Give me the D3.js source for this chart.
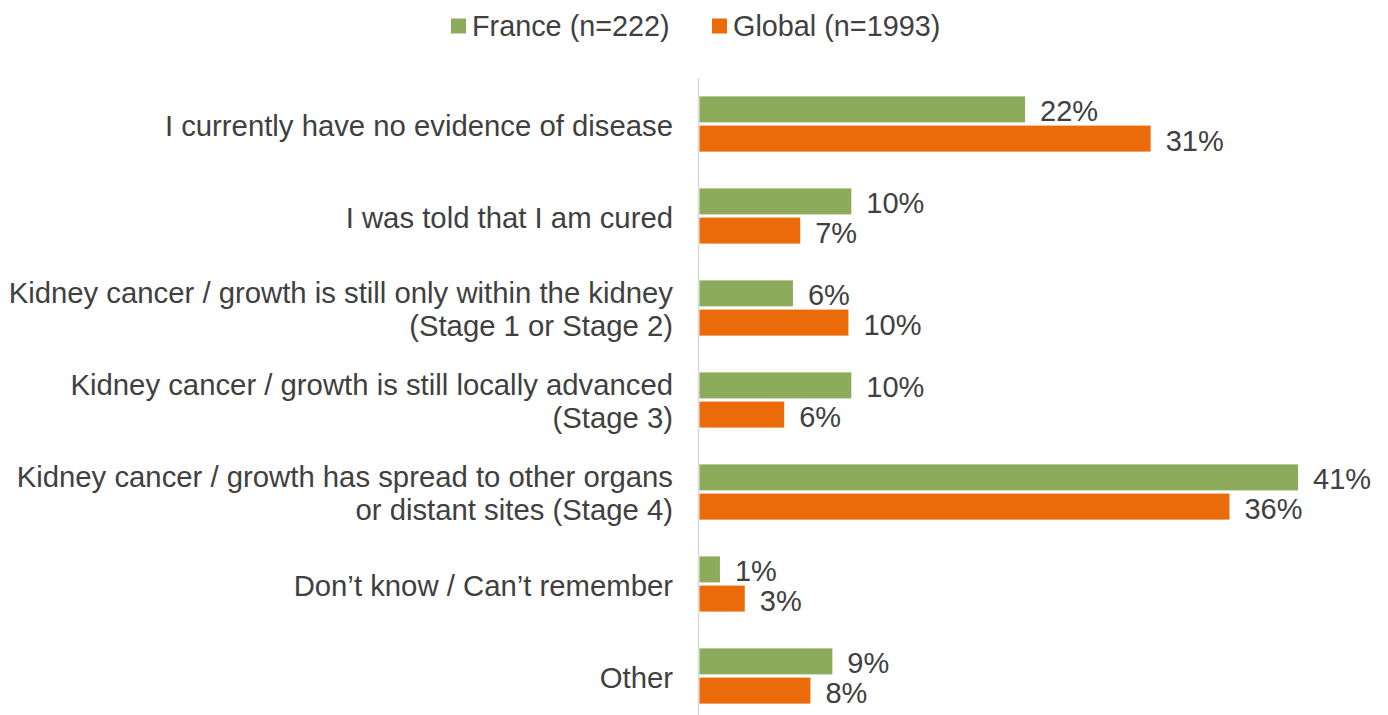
<!DOCTYPE html>
<html>
<head>
<meta charset="utf-8">
<script src="https://cdn.jsdelivr.net/npm/d3@7"></script>
<style>
  html, body { margin: 0; padding: 0; background: #ffffff; }
  svg { display: block; }
  svg text { font-family: Arial, "Liberation Sans", Helvetica, sans-serif; }
</style>
</head>
<body>
<svg id="chart" width="1388" height="715"></svg>
<script>
// ---- data ----
const categories = [
  ["I currently have no evidence of disease"],
  ["I was told that I am cured"],
  ["Kidney cancer / growth is still only within the kidney", "(Stage 1 or Stage 2)"],
  ["Kidney cancer / growth is still locally advanced", "(Stage 3)"],
  ["Kidney cancer / growth has spread to other organs", "or distant sites (Stage 4)"],
  ["Don\u2019t know / Can\u2019t remember"],
  ["Other"]
];
const seriesNames = ["France (n=222)", "Global (n=1993)"];
const franceValues = [22.3, 10.4, 6.4, 10.4, 41.0, 1.4, 9.1];
const globalValues = [30.9, 6.9, 10.2, 5.8, 36.3, 3.1, 7.6];
const franceLabels = ["22%", "10%", "6%", "10%", "41%", "1%", "9%"];
const globalLabels = ["31%", "7%", "10%", "6%", "36%", "3%", "8%"];
const colors = ["#8cac5c", "#eb6a0a"];

// ---- layout ----
const svg = d3.select("#chart");
const textColor = "#404040";
const catFontSize = 29.3;
const valFontSize = 29;
const legFontSize = 28.8;
const fontFamily = "Arial, 'Liberation Sans', Helvetica, sans-serif";

const idx = d3.range(categories.length);
const y = d3.scaleBand().domain(idx).range([78, 722]).paddingInner(0.4).paddingOuter(0.2);
const ySub = d3.scaleBand().domain([0, 1]).range([0, y.bandwidth()]).paddingInner(0.11);
const x = d3.scaleLinear().domain([0, 47]).range([699.5, 1385.7]);

const series = [
  { values: franceValues, labels: franceLabels },
  { values: globalValues, labels: globalLabels }
];

// axis line
svg.append("line")
  .attr("x1", 698.5).attr("x2", 698.5)
  .attr("y1", 78).attr("y2", 715)
  .attr("stroke", "#d9d9d9").attr("stroke-width", 1.5);

// bars + labels
series.forEach((s, si) => {
  const g = svg.append("g");
  g.selectAll("rect").data(idx).enter().append("rect")
    .attr("x", x(0))
    .attr("y", i => y(i) + ySub(si))
    .attr("width", i => x(s.values[i]) - x(0))
    .attr("height", ySub.bandwidth())
    .attr("fill", colors[si]);
  g.selectAll("text").data(idx).enter().append("text")
    .attr("x", i => x(s.values[i]) + 15)
    .attr("y", i => y(i) + ySub(si) + ySub.bandwidth() / 2 + 1.5)
    .attr("dy", "0.36em")
    .attr("font-family", fontFamily)
    .attr("font-size", valFontSize)
    .attr("fill", textColor)
    .text(i => s.labels[i]);
});

// category labels
const catG = svg.append("g");
idx.forEach(i => {
  const lines = categories[i];
  const cy = y(i) + y.bandwidth() / 2 + 1;
  const lh = 33;
  const t = catG.append("text")
    .attr("text-anchor", "end")
    .attr("font-family", fontFamily)
    .attr("font-size", catFontSize)
    .attr("fill", textColor);
  lines.forEach((ln, li) => {
    t.append("tspan")
      .attr("x", 673)
      .attr("y", cy + (li - (lines.length - 1) / 2) * lh)
      .attr("dy", "0.36em")
      .text(ln);
  });
});

// legend
const legendItems = [
  { name: seriesNames[0], color: colors[0], sx: 451, tx: 472 },
  { name: seriesNames[1], color: colors[1], sx: 712, tx: 733 }
];
const lg = svg.append("g");
legendItems.forEach(d => {
  lg.append("rect").attr("x", d.sx).attr("y", 18.5).attr("width", 15).attr("height", 15).attr("fill", d.color);
  lg.append("text").attr("x", d.tx).attr("y", 26).attr("dy", "0.36em")
    .attr("font-family", fontFamily)
    .attr("font-size", legFontSize).attr("fill", textColor).text(d.name);
});
</script>
</body>
</html>
